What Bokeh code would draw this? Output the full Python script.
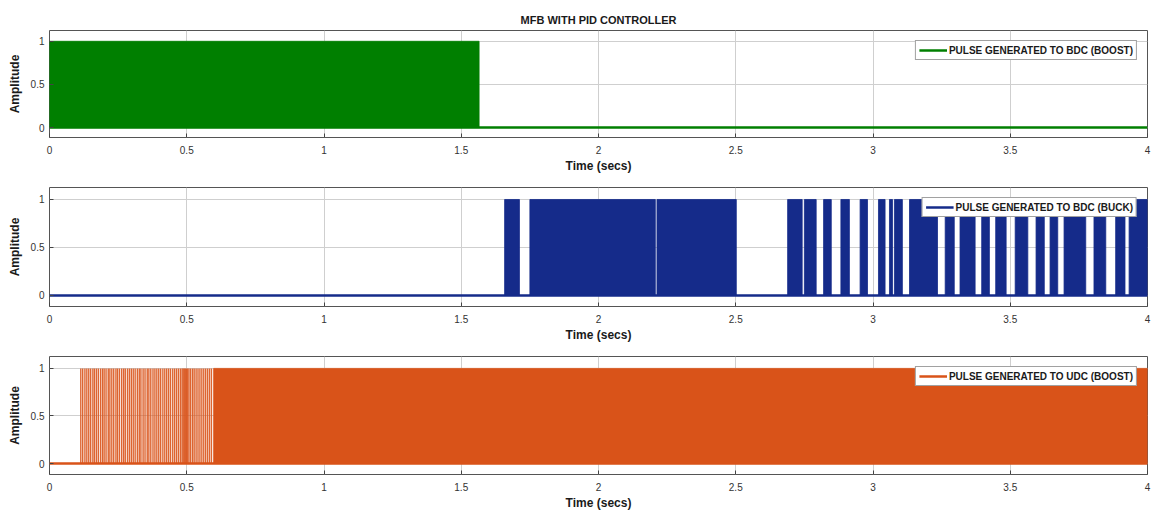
from bokeh.plotting import figure
from bokeh.layouts import column
from bokeh.models import Range1d, FixedTicker, Legend, LegendItem, NumeralTickFormatter
from bokeh.embed import file_html
from bokeh.resources import INLINE

# ---------------- data ----------------
title_text = "MFB WITH PID CONTROLLER"
x_label = "Time (secs)"
y_label = "Amplitude"
x_ticks = [0, 0.5, 1, 1.5, 2, 2.5, 3, 3.5, 4]
x_tick_labels = ["0", "0.5", "1", "1.5", "2", "2.5", "3", "3.5", "4"]
y_ticks = [0, 0.5, 1]
y_tick_labels = ["0", "0.5", "1"]

# Panel 1: pulse to BDC (boost) - dense switching burst, then low
bdc_boost_label = "PULSE GENERATED TO BDC (BOOST)"
bdc_boost_burst_start = [0.0]
bdc_boost_burst_end = [1.565]
bdc_boost_low_t = [0.0, 4.0]
bdc_boost_low_v = [0.0, 0.0]

# Panel 2: pulse to BDC (buck) - bursts of dense switching
bdc_buck_label = "PULSE GENERATED TO BDC (BUCK)"
bdc_buck_burst_start = [1.658, 1.750, 2.213, 2.689, 2.750, 2.820, 2.883, 2.953, 3.020, 3.060,
                        3.078, 3.133, 3.263, 3.317, 3.396, 3.447, 3.518, 3.594, 3.645, 3.696,
                        3.805, 3.884, 3.933]
bdc_buck_burst_end = [1.712, 2.207, 2.502, 2.742, 2.793, 2.848, 2.914, 2.980, 3.044, 3.071,
                      3.107, 3.235, 3.296, 3.372, 3.424, 3.485, 3.564, 3.624, 3.673, 3.775,
                      3.848, 3.918, 4.000]
bdc_buck_low_t = [0.0, 4.0]
bdc_buck_low_v = [0.0, 0.0]

# Panel 3: pulse to UDC (boost) - sparse pulses, then continuous switching
udc_boost_label = "PULSE GENERATED TO UDC (BOOST)"
udc_pulse_t = [0.114, 0.121, 0.129, 0.136, 0.143, 0.150, 0.158, 0.164, 0.171, 0.178,
               0.186, 0.193, 0.199, 0.206, 0.214, 0.220, 0.227, 0.234, 0.242, 0.248,
               0.255, 0.263, 0.270, 0.276, 0.284, 0.291, 0.298, 0.305, 0.312, 0.320,
               0.327, 0.333, 0.341, 0.348, 0.356, 0.362, 0.369, 0.377, 0.384, 0.391,
               0.398, 0.405, 0.413, 0.420, 0.427, 0.434, 0.441, 0.449, 0.456, 0.463,
               0.470, 0.477, 0.483, 0.487, 0.491, 0.495, 0.499, 0.503, 0.508, 0.514,
               0.521, 0.527, 0.534, 0.541, 0.548, 0.555, 0.562, 0.569, 0.576, 0.583,
               0.590]
udc_burst_start = [0.598]
udc_burst_end = [4.0]
udc_low_t = [0.0, 4.0]
udc_low_v = [0.0, 0.0]

green = "#007f00"
blue = "#152b8a"
orange = "#d95319"

FONT = "Liberation Sans"
TICK_COLOR = "#333333"


def make_fig(height, top, bottom, title=None):
    p = figure(width=1152, height=height,
               x_range=Range1d(0, 4), y_range=Range1d(-0.115, 1.125),
               output_backend="svg", toolbar_location=None,
               min_border_left=49, min_border_right=5,
               min_border_top=top, min_border_bottom=bottom)
    if title:
        p.title.text = title
        p.title.align = "center"
        p.title.text_font = FONT
        p.title.text_font_size = "11px"
        p.title.text_font_style = "bold"
        p.title.text_color = "#1a1a1a"
        p.title.standoff = 10
    p.outline_line_color = "#555555"
    p.outline_line_width = 1
    p.background_fill_color = "white"
    p.border_fill_color = "white"

    p.xaxis.ticker = FixedTicker(ticks=x_ticks)
    p.xaxis.formatter = NumeralTickFormatter(format="0.[0]")
    p.xaxis.major_label_overrides = {t: l for t, l in zip(x_ticks, x_tick_labels)}
    p.yaxis.ticker = FixedTicker(ticks=y_ticks)
    p.yaxis.formatter = NumeralTickFormatter(format="0.[0]")
    p.yaxis.major_label_overrides = {t: l for t, l in zip(y_ticks, y_tick_labels)}

    for ax in (p.xaxis[0], p.yaxis[0]):
        ax.axis_line_color = None
        ax.major_tick_in = 4
        ax.major_tick_out = 0
        ax.major_tick_line_color = "#444444"
        ax.minor_tick_line_color = None
        ax.major_label_text_font = FONT
        ax.major_label_text_font_size = "10px"
        ax.major_label_text_color = TICK_COLOR
        ax.axis_label_text_font = FONT
        ax.axis_label_text_font_size = "12px"
        ax.axis_label_text_font_style = "bold"
        ax.axis_label_text_color = "#1a1a1a"
    p.xaxis.axis_label = x_label
    p.yaxis.axis_label = y_label
    p.xaxis.major_label_standoff = 8
    p.xaxis.axis_label_standoff = 2
    p.yaxis.major_label_standoff = 5
    p.yaxis.axis_label_standoff = 6

    p.xgrid.grid_line_color = "#cfcfcf"
    p.ygrid.grid_line_color = "#cfcfcf"
    p.xgrid.grid_line_width = 1
    p.ygrid.grid_line_width = 1
    return p


def add_legend(p, renderer, label):
    leg = Legend(items=[LegendItem(label=label, renderers=[renderer])],
                 location="top_right")
    leg.margin = 10
    leg.padding = 3
    leg.spacing = 0
    leg.glyph_width = 28
    leg.glyph_height = 12
    leg.label_height = 12
    leg.label_standoff = 2
    leg.label_text_font = FONT
    leg.label_text_font_size = "10px"
    leg.label_text_font_style = "bold"
    leg.label_text_color = "#1a1a1a"
    leg.border_line_color = "#444444"
    leg.border_line_width = 1
    leg.background_fill_color = "white"
    leg.background_fill_alpha = 1
    p.add_layout(leg)


# ---------------- panel 1 ----------------
p1 = make_fig(177, 30, 40, title_text)
r1 = p1.line(bdc_boost_low_t, bdc_boost_low_v, line_color=green, line_width=2.5)
p1.quad(left=bdc_boost_burst_start, right=bdc_boost_burst_end,
        bottom=[0] * len(bdc_boost_burst_start), top=[1] * len(bdc_boost_burst_start),
        fill_color=green, line_color=green, line_width=0.8)
add_legend(p1, r1, bdc_boost_label)

# ---------------- panel 2 ----------------
p2 = make_fig(169, 10, 40)
r2 = p2.line(bdc_buck_low_t, bdc_buck_low_v, line_color=blue, line_width=2.5)
p2.quad(left=bdc_buck_burst_start, right=bdc_buck_burst_end,
        bottom=[0] * len(bdc_buck_burst_start), top=[1] * len(bdc_buck_burst_start),
        fill_color=blue, line_color=blue, line_width=0.8)
add_legend(p2, r2, bdc_buck_label)

# ---------------- panel 3 ----------------
p3 = make_fig(171, 10, 43)
r3 = p3.line(udc_low_t, udc_low_v, line_color=orange, line_width=2.5)
p3.segment(x0=udc_pulse_t, y0=[0] * len(udc_pulse_t), x1=udc_pulse_t, y1=[1] * len(udc_pulse_t),
           line_color=orange, line_width=1.4, line_alpha=0.9)
p3.quad(left=udc_burst_start, right=udc_burst_end,
        bottom=[0] * len(udc_burst_start), top=[1] * len(udc_burst_start),
        fill_color=orange, line_color=orange, line_width=0.8)
add_legend(p3, r3, udc_boost_label)

layout = column(p1, p2, p3, spacing=0)
open("out.html", "w").write(file_html(layout, INLINE))
